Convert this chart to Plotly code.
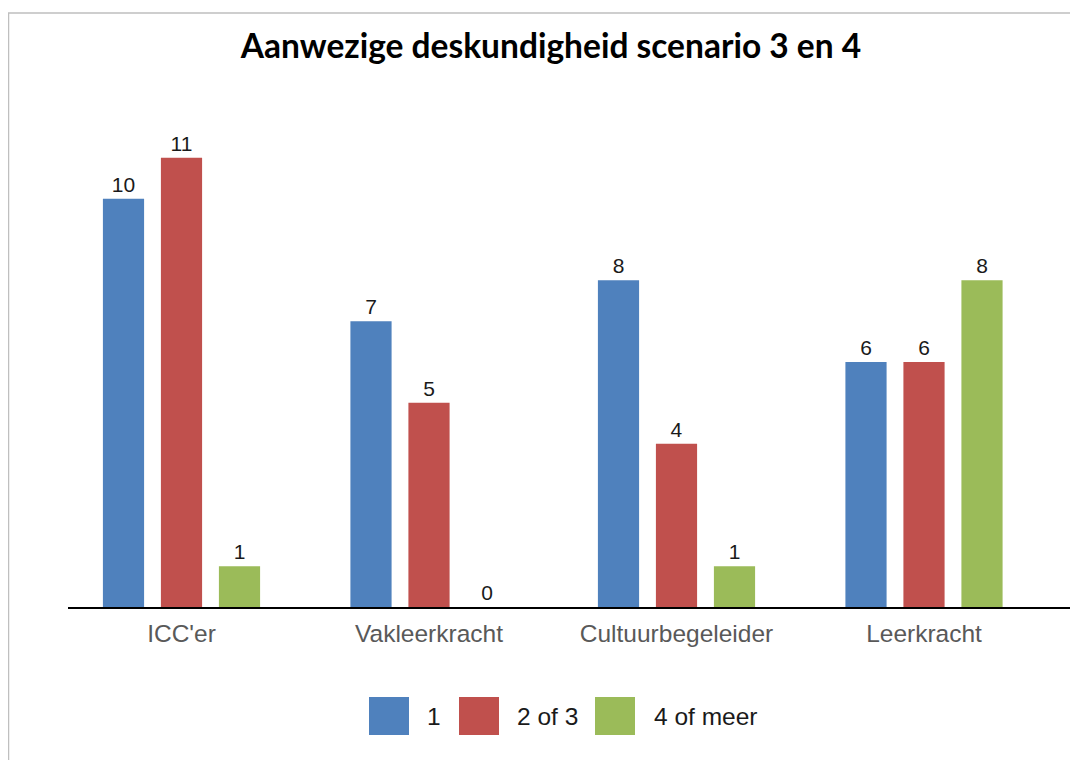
import plotly.graph_objects as go

categories = ["ICC'er", "Vakleerkracht", "Cultuurbegeleider", "Leerkracht"]
series_names = ["1", "2 of 3", "4 of meer"]
values_1 = [10, 7, 8, 6]
values_2of3 = [11, 5, 4, 6]
values_4ofmeer = [1, 0, 1, 8]
colors = ["#4F81BD", "#C0504D", "#9BBB59"]

# page body has an 8px margin; work in screen coordinates and convert
OFF = 8
W, H = 1078 - OFF, 760 - OFF
PLOT_L, PLOT_R, PLOT_T, PLOT_B = 68, 1072, 117, 607  # screen px
ML, MR = PLOT_L - OFF, (W + OFF) - PLOT_R
MT, MB = PLOT_T - OFF, (H + OFF) - PLOT_B
PW = PLOT_R - PLOT_L
PH = PLOT_B - PLOT_T


def px(x):
    return (x - PLOT_L) / PW


def py(y):
    return (PLOT_B - y) / PH


fig = go.Figure()
for name, vals, col in zip(series_names, [values_1, values_2of3, values_4ofmeer], colors):
    fig.add_trace(go.Bar(
        x=categories, y=vals, name=name, marker_color=col, marker_line_width=0,
        text=[str(v) for v in vals], textposition="outside", cliponaxis=False,
        textfont=dict(family="Liberation Sans, Arial", size=21, color="#1a1a1a"),
        showlegend=False,
    ))

# band position: category 0 centered at x=181.5px, band 247.5px
band = 247.5
start = -(181.5 - PLOT_L) / band
fig.update_xaxes(
    type="category", range=[start, start + PW / band],
    showline=True, linecolor="black", linewidth=2, ticks="",
    ticklabelstandoff=4,
    tickfont=dict(family="Liberation Sans, Arial", size=24.5, color="#595959"),
    showgrid=False, zeroline=False,
)
fig.update_yaxes(range=[0, 12], visible=False, showgrid=False, zeroline=False)

shapes = [
    # chart border
    dict(type="rect", xref="paper", yref="paper", x0=px(8.5), x1=px(1100), y0=py(13), y1=py(800),
         line=dict(color="#BFBFBF", width=1.5), fillcolor="rgba(0,0,0,0)", layer="below"),
]
annotations = []
legend_swatches = [369, 459, 595]
legend_text_x = [425, 515, 652]
for name, col, sx, tx in zip(series_names, colors, legend_swatches, legend_text_x):
    shapes.append(dict(type="rect", xref="paper", yref="paper", x0=px(sx), x1=px(sx + 40),
                       y0=py(735), y1=py(697), fillcolor=col, line=dict(width=0)))
    annotations.append(dict(text=name, xref="paper", yref="paper", x=px(tx), y=py(716),
                            xanchor="left", yanchor="middle", showarrow=False,
                            font=dict(family="Liberation Sans, Arial", size=24.5, color="#1a1a1a")))

fig.update_layout(
    width=W, height=H,
    margin=dict(l=ML, r=MR, t=MT, b=MB),
    barmode="group", bargap=0.297, bargroupgap=0.29,
    plot_bgcolor="white", paper_bgcolor="white",
    title=dict(text="<b>Aanwezige deskundigheid scenario 3 en 4</b>", x=(551 - OFF) / W, xanchor="center",
               y=1 - (46 - OFF) / H, yanchor="middle",
               font=dict(family="Lato, Open Sans", size=33.5, color="black")),
    shapes=shapes, annotations=annotations,
)

fig.write_html("out.html")
